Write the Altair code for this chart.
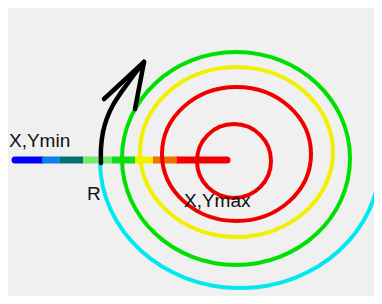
import altair as alt
import pandas as pd

# ---- horizontal colour bar (segments along the radius) ----
seg_x0 = [15, 42, 60, 83, 112, 135, 153, 177]
seg_x1 = [42, 60, 83, 112, 135, 153, 177, 227]
seg_colors = ["#0000ee", "#0a80e8", "#037070", "#70ee70",
              "#10e010", "#f0f000", "#f07000", "#f00000"]
line_y = 160

# ---- closed rings (ellipses) ----
ring_cx = [234, 236.5, 236.5, 236]
ring_cy = [161, 154, 152, 158.5]
ring_rx = [37, 74.5, 96.5, 114]
ring_ry = [37, 67, 85, 106.5]
ring_colors = ["#ee0000", "#ee0000", "#f0f000", "#00e000"]

# ---- outer cyan half ring ----
cyan_cx = [240]
cyan_cy = [161]
cyan_rx = [140]
cyan_ry = [127]
cyan_color = "#00e8f0"

# ---- curved arrow ----
arrow_x = [101, 101, 103, 107, 113, 120, 128, 136, 144]
arrow_y = [163, 148, 132, 118, 105, 94, 83, 72, 62]
barb_x = [104, 135]
barb_y = [99, 109]

# ---- labels ----
label_text = ["X,Ymin", "R", "X,Ymax"]
label_x = [9, 87, 184]
label_y = [147, 200, 207]

X = lambda f="x": alt.X(f"{f}:Q", scale=alt.Scale(domain=[8, 374], nice=False, zero=False), axis=None)
Y = lambda f="y": alt.Y(f"{f}:Q", scale=alt.Scale(domain=[296, 8], nice=False, zero=False), axis=None)

seg_df = pd.DataFrame({"x": seg_x0, "x2": seg_x1, "y": [line_y] * len(seg_x0),
                       "c": seg_colors, "i": range(len(seg_x0))})
ends = seg_df[(seg_df.i == 0) | (seg_df.i == len(seg_x0) - 1)]
mids = seg_df[(seg_df.i != 0) & (seg_df.i != len(seg_x0) - 1)]

end_layer = alt.Chart(ends).mark_rule(strokeWidth=7, strokeCap="round").encode(
    x=X(), x2="x2:Q", y=Y(), color=alt.Color("c:N", scale=None))
mid_layer = alt.Chart(mids).mark_rule(strokeWidth=7, strokeCap="butt").encode(
    x=X(), x2="x2:Q", y=Y(), color=alt.Color("c:N", scale=None))


def ellipse_path(k, half=False):
    if half:
        return f"M -1 0 A 1 {k:.4f} 0 0 0 1 0"
    return f"M -1 0 A 1 {k:.4f} 0 1 0 1 0 A 1 {k:.4f} 0 1 0 -1 0 Z"


ring_layers = []
for cx, cy, rx, ry, col in zip(ring_cx, ring_cy, ring_rx, ring_ry, ring_colors):
    df = pd.DataFrame({"x": [cx], "y": [cy], "rx": [rx]})
    ring_layers.append(
        alt.Chart(df).transform_calculate(s="4*datum.rx*datum.rx").mark_point(
            shape=ellipse_path(ry / rx), filled=False, stroke=col, strokeWidth=4, opacity=1
        ).encode(x=X(), y=Y(), size=alt.Size("s:Q", scale=None))
    )

cyan_df = pd.DataFrame({"x": cyan_cx, "y": cyan_cy, "rx": cyan_rx, "ry": cyan_ry})
cyan_layer = alt.Chart(cyan_df).transform_calculate(s="4*datum.rx*datum.rx").mark_point(
    shape=ellipse_path(cyan_ry[0] / cyan_rx[0], half=True), filled=False,
    stroke=cyan_color, strokeWidth=4, opacity=1
).encode(x=X(), y=Y(), size=alt.Size("s:Q", scale=None))

arrow_df = pd.DataFrame({"x": arrow_x, "y": arrow_y, "o": range(len(arrow_x))})
arrow_layer = alt.Chart(arrow_df).mark_line(
    color="black", strokeWidth=4.5, interpolate="catmull-rom", strokeCap="round"
).encode(x=X(), y=Y(), order="o:Q")

barb_df = pd.DataFrame({"x": [arrow_x[-1]] * 2, "y": [arrow_y[-1]] * 2, "x2": barb_x, "y2": barb_y})
barb_layer = alt.Chart(barb_df).mark_rule(color="black", strokeWidth=4.5, strokeCap="round").encode(
    x=X(), y=Y(), x2="x2:Q", y2="y2:Q")

label_df = pd.DataFrame({"t": label_text, "x": label_x, "y": label_y})
label_layer = alt.Chart(label_df).mark_text(
    align="left", baseline="alphabetic", font="Liberation Sans", fontSize=19, color="#111111"
).encode(x=X(), y=Y(), text="t:N")

chart = alt.layer(
    cyan_layer, end_layer, mid_layer, *ring_layers, arrow_layer, barb_layer, label_layer
).properties(
    width=366, height=288, background="#f0f0f0", padding=0,
    autosize=alt.AutoSizeParams(type="none")
).configure_view(stroke=None)

chart.save("out.html", embed_options={"renderer": "svg", "actions": False})
